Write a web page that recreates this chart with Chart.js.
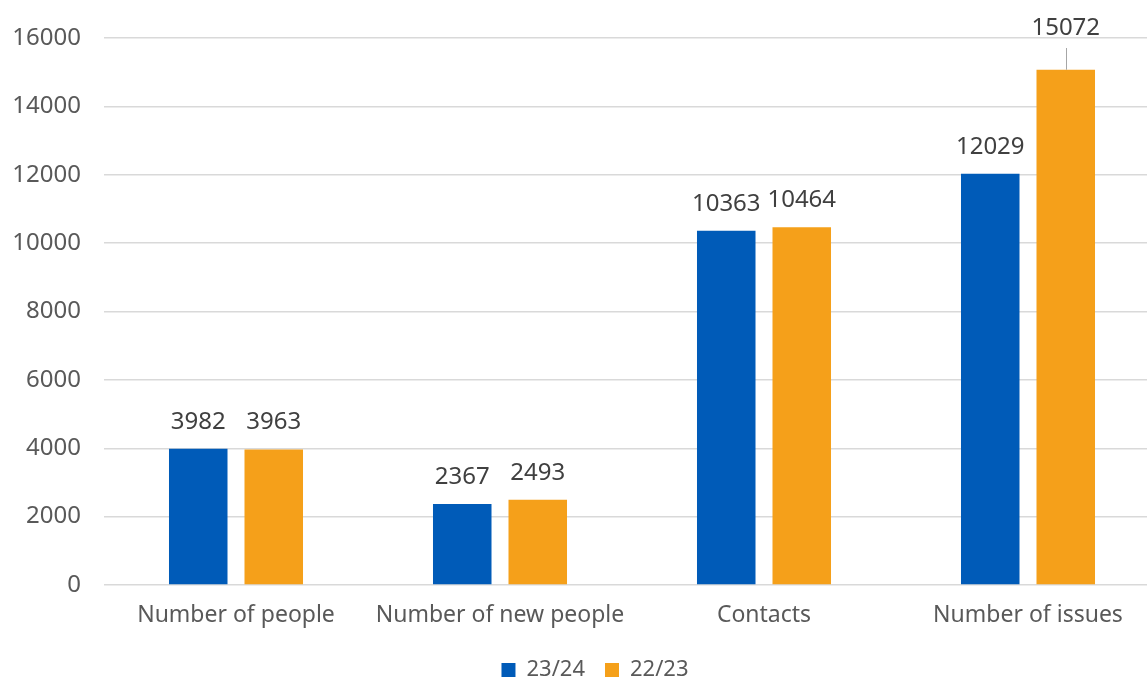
<!DOCTYPE html>
<html>
<head>
<meta charset="utf-8">
<script src="https://cdn.jsdelivr.net/npm/chart.js@4"></script>
<style>
  html, body { margin: 0; padding: 0; background: #fff; overflow: hidden; }
  #wrap { width: 1190px; height: 691px; position: relative; }
</style>
</head>
<body>
<div id="wrap"><canvas id="c"></canvas></div>
<script>
const categories = ['Number of people', 'Number of new people', 'Contacts', 'Number of issues'];
const seriesNames = ['23/24', '22/23'];
const values2324 = [3982, 2367, 10363, 12029];
const values2223 = [3963, 2493, 10464, 15072];
const yTicks = [0, 2000, 4000, 6000, 8000, 10000, 12000, 14000, 16000];

const FONT = '"Noto Sans", "Open Sans", sans-serif';

// Value labels above each bar; a label that would rise past the top of the
// plot is lifted above it and tied back to its bar with a short leader line.
const valueLabels = {
  id: 'valueLabels',
  afterDatasetsDraw(chart) {
    const ctx = chart.ctx;
    const top = chart.chartArea.top;
    ctx.save();
    ctx.font = '24px ' + FONT;
    ctx.fillStyle = '#404040';
    ctx.textAlign = 'center';
    ctx.textBaseline = 'middle';
    chart.data.datasets.forEach((ds, di) => {
      chart.getDatasetMeta(di).data.forEach((bar, i) => {
        let y = bar.y - 27;
        if (y < top + 14) {
          y = top - 10;
          ctx.strokeStyle = '#A6A6A6';
          ctx.lineWidth = 1;
          ctx.beginPath();
          ctx.moveTo(Math.round(bar.x) + 0.5, bar.y);
          ctx.lineTo(Math.round(bar.x) + 0.5, y + 20);
          ctx.stroke();
        }
        ctx.fillText(String(ds.data[i]), bar.x, y);
      });
    });
    ctx.restore();
  }
};

// Centre the legend on the full canvas width rather than the padded box.
const legendCentre = {
  id: 'legendCentre',
  afterLayout(chart) {
    const lg = chart.legend;
    if (!lg) return;
    const shift = (chart.width - (lg.left + lg.right)) / 2;
    lg.left += shift;
    lg.right += shift;
  }
};

new Chart(document.getElementById('c'), {
  type: 'bar',
  data: {
    labels: categories,
    datasets: [
      { label: seriesNames[0], data: values2324, backgroundColor: '#005BB8' },
      { label: seriesNames[1], data: values2223, backgroundColor: '#F5A01A' }
    ]
  },
  options: {
    responsive: true,
    maintainAspectRatio: false,
    animation: false,
    layout: { padding: { top: 38, right: 30, left: 0, bottom: 0 } },
    datasets: { bar: { categoryPercentage: 0.572, barPercentage: 0.775 } },
    scales: {
      x: {
        grid: { display: false },
        border: { display: false },
        ticks: { color: '#595959', font: { family: FONT, size: 23 }, padding: 9 },
        afterFit(scale) { scale.height = 54; }
      },
      y: {
        min: 0,
        max: 16000,
        afterBuildTicks(scale) { scale.ticks = yTicks.map(v => ({ value: v })); },
        grid: { color: '#D9D9D9', lineWidth: 1.5, drawTicks: false },
        border: { display: false },
        ticks: {
          color: '#595959',
          font: { family: FONT, size: 24 },
          padding: 23,
          callback: (v) => String(v)
        },
        afterFit(scale) { scale.width = 104; }
      }
    },
    plugins: {
      legend: {
        position: 'bottom',
        labels: {
          color: '#595959',
          font: { family: FONT, size: 22 },
          boxWidth: 14,
          boxHeight: 14,
          padding: 20
        }
      },
      tooltip: { enabled: false }
    }
  },
  plugins: [valueLabels, legendCentre]
});
</script>
</body>
</html>
